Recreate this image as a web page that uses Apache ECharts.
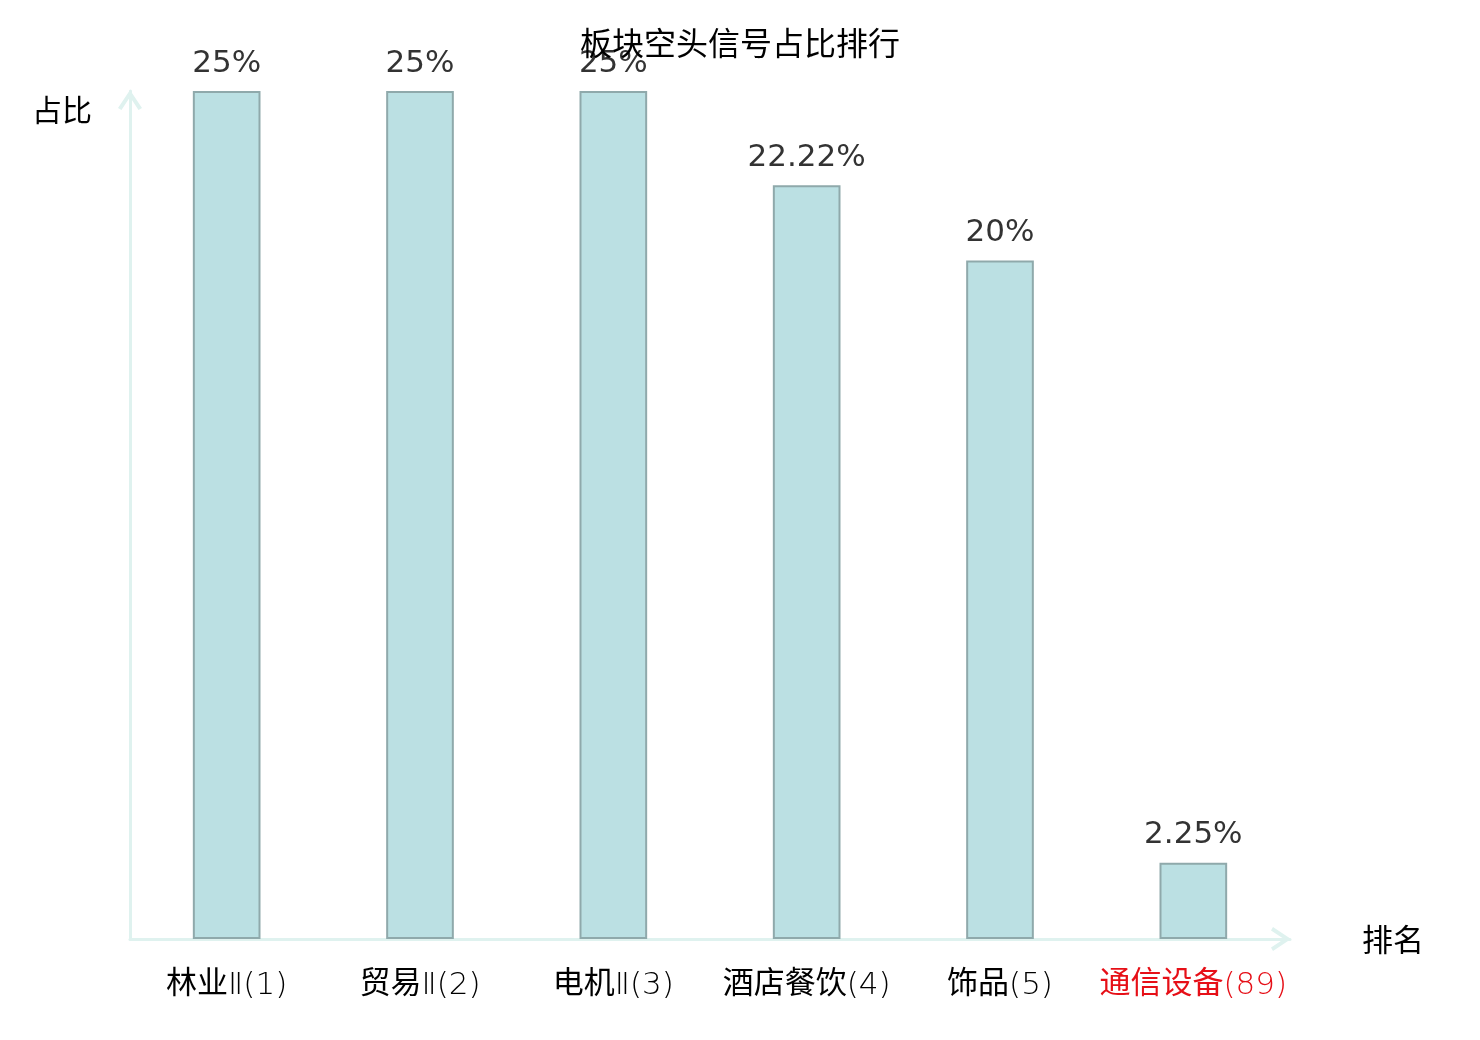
<!DOCTYPE html>
<html>
<head>
<meta charset="utf-8">
<script src="https://cdn.jsdelivr.net/npm/echarts@6/dist/echarts.min.js"></script>
<style>
  html, body { margin: 0; padding: 0; background: #fff; }
  #main { width: 1480px; height: 1040px; }
</style>
</head>
<body>
<div id="main"></div>
<script>
const categories = ["林业Ⅱ(1)", "贸易Ⅱ(2)", "电机Ⅱ(3)", "酒店餐饮(4)", "饰品(5)", "通信设备(89)"];
const shareValues = [25, 25, 25, 22.22, 20, 2.25];
const highlightIndex = 5;

// open chevron used as the axis-end arrow (points up, rotated by the axis)
const chevron = "path://M0,18 L12,0 L24,18 L20.5,20 L12,7 L3.5,20 Z";

const chart = echarts.init(document.getElementById("main"), null, { renderer: "canvas" });

const axisLineStyle = {
  show: true,
  symbol: ["none", chevron],
  symbolSize: [24, 22],
  symbolOffset: [0, -9],
  lineStyle: { color: "#dff2ef", width: 3 },
};

const cnFont = { fontFamily: "Noto Sans CJK SC", fontWeight: "normal", fontSize: 31 };
const latFont = { fontFamily: "DejaVu Sans", fontWeight: 200, fontSize: 31, padding: [8, 0, 0, 0] };

function categoryLabel(value, index) {
  const m = value.match(/^([\u4e00-\u9fa5]+)(.*)$/);
  const suffix = index === highlightIndex ? "Red" : "";
  if (!m) return `{lat${suffix}|${value}}`;
  return `{cn${suffix}|${m[1]}}{lat${suffix}|${m[2]}}`;
}

const option = {
  animation: false,
  backgroundColor: "#fff",
  title: {
    text: "板块空头信号占比排行",
    left: "center",
    top: 22,
    textStyle: {
      fontFamily: "Noto Sans CJK SC",
      fontSize: 32,
      fontWeight: "normal",
      color: "#000",
    },
  },
  grid: { left: 130, right: 190, top: 91, bottom: 101 },
  xAxis: {
    type: "category",
    data: categories,
    name: "排名",
    nameLocation: "end",
    nameGap: 72,
    nameTextStyle: { fontFamily: "Noto Sans CJK SC", fontSize: 31, color: "#000", padding: [4, 0, 0, 0] },
    axisLine: axisLineStyle,
    axisTick: { show: false },
    axisLabel: {
      interval: 0,
      margin: 23,
      formatter: categoryLabel,
      rich: {
        cn: { ...cnFont, color: "#000" },
        lat: { ...latFont, color: "#000" },
        cnRed: { ...cnFont, color: "#e60f17" },
        latRed: { ...latFont, color: "#e60f17" },
      },
    },
  },
  yAxis: {
    type: "value",
    min: 0,
    max: 25,
    name: "占比",
    nameLocation: "end",
    nameGap: -19,
    nameTextStyle: {
      fontFamily: "Noto Sans CJK SC",
      fontSize: 30,
      color: "#000",
      align: "right",
      verticalAlign: "middle",
      padding: [0, 38, 0, 0],
    },
    axisLine: axisLineStyle,
    axisTick: { show: false },
    axisLabel: { show: false },
    splitLine: { show: false },
  },
  series: [
    {
      type: "bar",
      data: shareValues,
      barWidth: "35%",
      itemStyle: { color: "#bbe0e3", borderColor: "#8fa9ab", borderWidth: 2 },
      label: {
        show: true,
        position: "top",
        distance: 12,
        fontFamily: "DejaVu Sans",
        fontSize: 31,
        color: "#333",
        formatter: (p) => p.value + "%",
      },
    },
  ],
};

chart.setOption(option);
</script>
</body>
</html>
